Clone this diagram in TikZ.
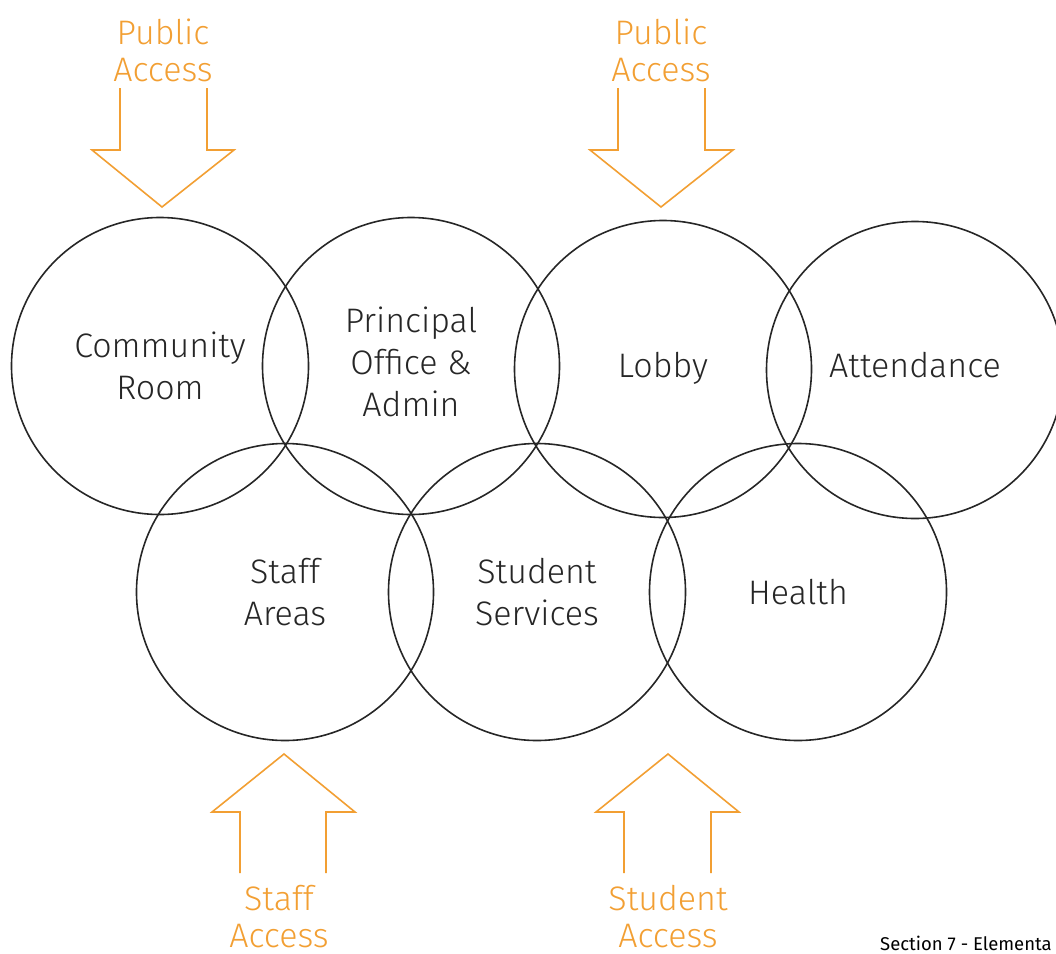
\documentclass[tikz,border=0pt]{standalone}
\usepackage{fontspec}
\setmainfont{Fira Sans Light}
\newfontfamily\notefont{Fira Sans}
\usetikzlibrary{positioning}
\definecolor{accessorange}{RGB}{242,159,51}

\begin{document}
\begin{tikzpicture}[x=1pt,y=-1pt,
    room/.style={circle,draw=black!85,line width=1.6pt,minimum size=297pt,inner sep=0pt,
      align=center,font=\fontsize{34}{42}\selectfont,text=black!85},
    access/.style={accessorange,line width=1.6pt,line join=miter},
    accesslabel/.style={align=center,text=accessorange,font=\fontsize{34}{37}\selectfont,inner sep=0pt}]

\useasboundingbox (0,0) rectangle (1056,953);

% top row
\node[room] (comm)   at (160,366) {Community\\Room};
\node[room] (princ)  at (411,366) {\raisebox{4pt}{\begin{tabular}{@{}c@{}}Principal\\Office \&\\Admin\end{tabular}}};
\node[room] (lobby)  at (663,369) {\raisebox{9pt}{Lobby}};
\node[room] (attend) at (915,370) {\raisebox{10pt}{Attendance}};
% bottom row
\node[room] (staff)  at (285,592) {Staff\\Areas};
\node[room] (stud)   at (537,592) {Student\\Services};
\node[room] (health) at (798,592) {Health};

% public access, from above
\node[accesslabel] (pubA) at (163,50) {Public\\Access};
\node[accesslabel] (pubB) at (661,50) {Public\\Access};
\draw[access] (120,88) -- (120,150) -- (92,150) -- (162,207) -- (234,150) -- (207,150) -- (207,88);
\draw[access] (618,88) -- (618,150) -- (590,150) -- (661,207) -- (733,150) -- (705,150) -- (705,88);

% staff and student access, from below
\node[accesslabel] (stfA) at (279,917) {Staff\\Access};
\node[accesslabel] (stuA) at (668,917) {Student\\Access};
\draw[access] (240,873) -- (240,812) -- (212,812) -- (284,754) -- (355,812) -- (326,812) -- (326,873);
\draw[access] (624,873) -- (624,812) -- (596,812) -- (668,754) -- (739,812) -- (711,812) -- (711,873);

\node[anchor=base west,inner sep=0pt,font=\notefont\fontsize{18.5}{18.5}\selectfont] (sect) at (880,950) {Section 7 - Elementa};
\end{tikzpicture}
\end{document}
